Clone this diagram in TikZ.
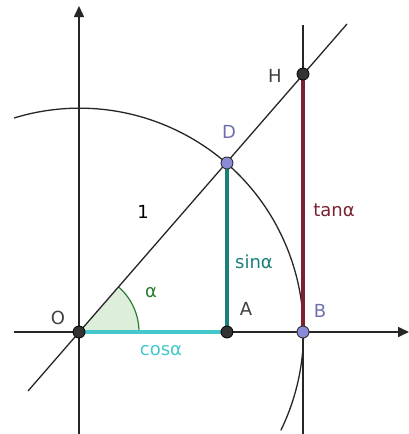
\documentclass[tikz,border=0pt]{standalone}
\usepackage{fontspec}
\setmainfont{DejaVu Sans}
\usetikzlibrary{arrows.meta}
\definecolor{costeal}{HTML}{45C8CC}
\definecolor{sinteal}{HTML}{1C7F7C}
\definecolor{tanred}{HTML}{7A2232}
\definecolor{ptblue}{HTML}{8A8AD8}
\definecolor{lblblue}{HTML}{7070B0}
\definecolor{anggreen}{HTML}{2E7D32}
\definecolor{angfill}{HTML}{DDEFDB}
\definecolor{lblgray}{HTML}{404040}
\tikzset{
  axis/.style={line width=1.6pt, draw=black!85, -{Triangle[length=11pt,width=10pt]}},
  thin line/.style={line width=1.3pt, draw=black!85},
  seg/.style={line width=3.8pt},
  blackpt/.style={circle, fill=black!80, draw=black, line width=0.8pt, minimum size=12pt, inner sep=0pt},
  bluept/.style={circle, fill=ptblue, draw=black!80, line width=0.9pt, minimum size=12pt, inner sep=0pt},
  lbl/.style={font=\fontsize{18}{18}\selectfont, inner sep=0pt}
}
\begin{document}
\begin{tikzpicture}[x=1pt,y=-1pt]
\useasboundingbox[fill=white] (0,0) rectangle (409,434);
% coordinates
\coordinate (Oc) at (79,332);
\coordinate (Ac) at (227,332);
\coordinate (Dc) at (227,163);
\coordinate (Bc) at (303,332);
\coordinate (Hc) at (303,74);
% angle wedge
\fill[angfill] (Oc) -- (139,332) arc[start angle=0, end angle=-49, radius=60] -- cycle;
\draw[anggreen, line width=1.2pt] (139,332) arc[start angle=0, end angle=-49, radius=60];
% circle arc
\draw[thin line] (14,118) arc[start angle=-107, end angle=26, radius=224];
% axes
\coordinate (xs) at (14,332);
\coordinate (xe) at (409,332);
\coordinate (ys) at (79,434);
\coordinate (ye) at (79,6);
\draw[axis] (xs) -- (xe);
\draw[axis] (ys) -- (ye);
% line through O
\coordinate (ls) at (28,391);
\coordinate (le) at (347,24);
\draw[thin line] (ls) -- (le);
% tangent vertical
\coordinate (ts) at (303,25);
\coordinate (te) at (303,434);
\draw[thin line] (ts) -- (te);
% segments
\draw[seg, costeal] (Oc) -- (Ac);
\draw[seg, sinteal] (Ac) -- (Dc);
\draw[seg, tanred] (Bc) -- (Hc);
% points
\node[blackpt] (O) at (Oc) {};
\node[blackpt] (A) at (Ac) {};
\node[blackpt] (H) at (Hc) {};
\node[bluept] (D) at (Dc) {};
\node[bluept] (B) at (Bc) {};
% labels
\node[lbl, text=lblgray] (lO) at (58,318) {O};
\node[lbl, text=lblgray] (lA) at (246,309) {A};
\node[lbl, text=lblblue] (lB) at (320,311) {B};
\node[lbl, text=lblblue] (lD) at (229,132) {D};
\node[lbl, text=lblgray] (lH) at (275,76) {H};
\node[lbl, text=black] (l1) at (143,212) {1};
\node[lbl, text=anggreen] (lal) at (151,293) {α};
\node[lbl, text=sinteal] (lsin) at (254,262) {sinα};
\node[lbl, text=tanred] (ltan) at (334,210) {tanα};
\node[lbl, text=costeal] (lcos) at (161,351) {cosα};
\end{tikzpicture}
\end{document}
